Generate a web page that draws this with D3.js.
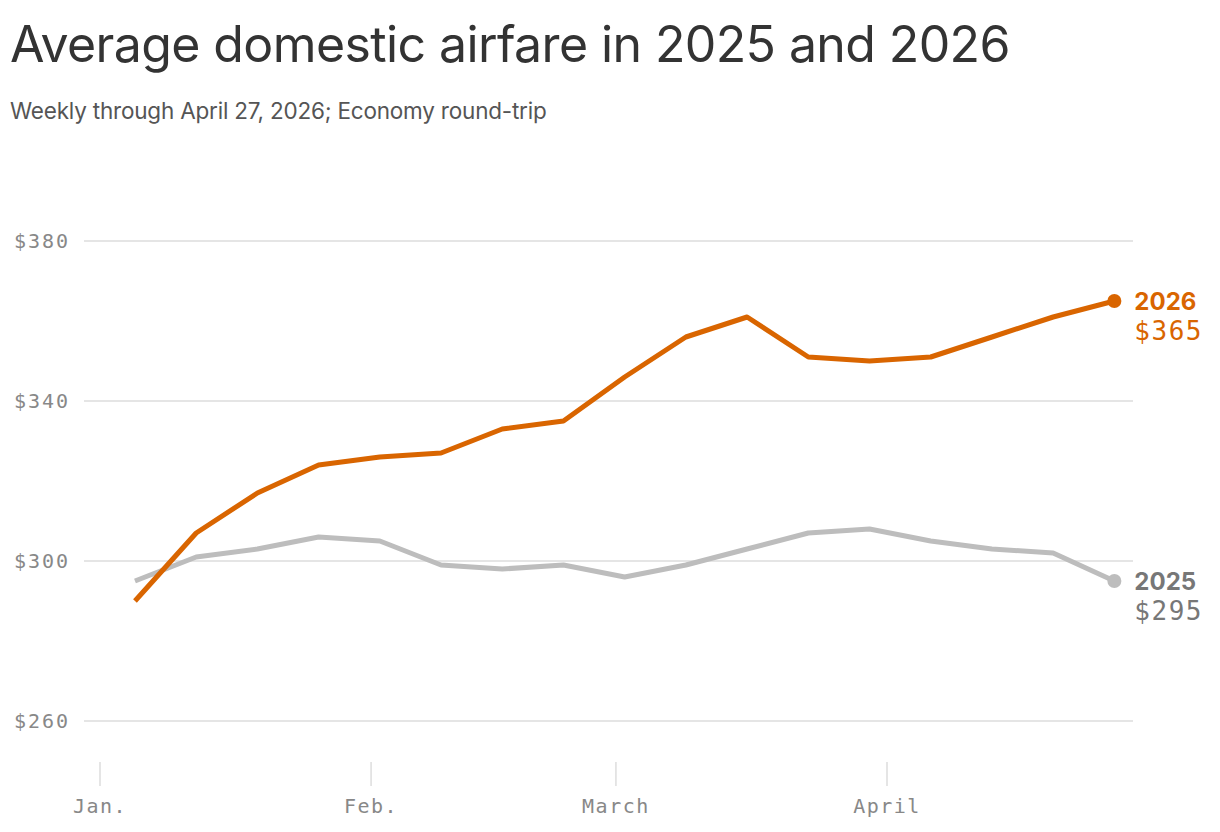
<!DOCTYPE html><html><head><meta charset="utf-8">
<script src="https://cdn.jsdelivr.net/npm/d3@7"></script>
<style>body{margin:0;background:#fff}</style></head><body>
<svg id="c" width="1220" height="832"></svg>
<script>
const weekStart = "2026-01-05";
const values2026 = [290,307,317,324,326,327,333,335,346,356,361,351,350,351,356,361,365];
const values2025 = [295,301,303,306,305,299,298,299,296,299,303,307,308,305,303,302,295];
const yTicks = [260,300,340,380];
const monthTicks = ["2026-01-01","2026-02-01","2026-03-01","2026-04-01"];
const monthLabels = ["Jan.","Feb.","March","April"];

const parse = d3.utcParse("%Y-%m-%d");
const t0 = parse(weekStart);
const dates = values2026.map((_,i)=>d3.utcDay.offset(t0,i*7));
const svg = d3.select("#c");
const x = d3.scaleUtc().domain([parse("2026-01-01"), parse("2026-04-01")]).range([100,887]);
const y = d3.scaleLinear().domain([260,380]).range([721,241]);
const mono = "'DejaVu Sans Mono', monospace";
const sans = "Inter, 'Noto Sans', sans-serif";

svg.append("text").attr("x",10).attr("y",62).attr("font-family",sans).attr("font-size",50).attr("fill","#333").attr("letter-spacing",-0.6).text("Average domestic airfare in 2025 and 2026");
svg.append("text").attr("x",10).attr("y",119).attr("font-family",sans).attr("font-size",22.5).attr("fill","#555").attr("letter-spacing",-0.2).text("Weekly through April 27, 2026; Economy round-trip");

const yAxis = svg.append("g");
yAxis.selectAll("line").data(yTicks).join("line").attr("x1",84).attr("x2",1133).attr("y1",d=>y(d)).attr("y2",d=>y(d)).attr("stroke","#ddd").attr("stroke-width",1.5);
yAxis.selectAll("text").data(yTicks).join("text").attr("x",14).attr("y",d=>y(d)+7).attr("font-family",mono).attr("font-size",20).attr("letter-spacing",2).attr("fill","#888").text(d=>"$"+d);

const xa = svg.append("g");
const mt = monthTicks.map(parse);
xa.selectAll("line").data(mt).join("line").attr("x1",d=>x(d)).attr("x2",d=>x(d)).attr("y1",762).attr("y2",786).attr("stroke","#ddd").attr("stroke-width",1.5);
xa.selectAll("text").data(mt).join("text").attr("x",d=>x(d)).attr("y",813).attr("text-anchor","middle").attr("font-family",mono).attr("font-size",20).attr("letter-spacing",1.5).attr("fill","#888").text((d,i)=>monthLabels[i]);

const line = d3.line().x((d,i)=>x(dates[i])).y(d=>y(d));
function series(vals,col,label,vcol){
  svg.append("path").attr("d",line(vals)).attr("fill","none").attr("stroke",col).attr("stroke-width",5).attr("stroke-linejoin","round");
  const lx = x(dates[vals.length-1]), ly = y(vals[vals.length-1]);
  svg.append("circle").attr("cx",lx).attr("cy",ly).attr("r",7).attr("fill",col);
  svg.append("text").attr("x",lx+20).attr("y",ly+9).attr("font-family",sans).attr("font-weight",700).attr("font-size",24).attr("fill",vcol).text(label);
  svg.append("text").attr("x",lx+20).attr("y",ly+39).attr("font-family",mono).attr("font-size",26).attr("letter-spacing",1.5).attr("fill",vcol).text("$"+vals[vals.length-1]);
}
series(values2025,"#bdbdbd","2025","#777");
series(values2026,"#d96500","2026","#d96500");
</script></body></html>
